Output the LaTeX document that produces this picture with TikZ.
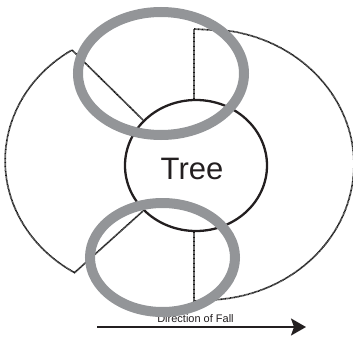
\documentclass[tikz,border=0pt]{standalone}
\usepackage{fontspec}
\setmainfont{Liberation Sans}
\usetikzlibrary{arrows.meta,shapes.geometric}
\definecolor{ringgray}{HTML}{939598}
\definecolor{inkdark}{HTML}{231F20}
\tikzset{
  hatch/.style={draw=black!90, line width=1.7pt, dash pattern=on 0.8pt off 0.5pt},
  treeshape/.style={ellipse, draw=inkdark, line width=2.3pt, inner sep=0pt, minimum width=142pt, minimum height=131pt},
  ring/.style={ellipse, draw=ringgray, line width=10pt, inner sep=0pt},
  arrowline/.style={draw=inkdark, line width=2pt, -{Stealth[length=15pt,width=17pt,inset=3pt]}}
}
\begin{document}
\begin{tikzpicture}[x=1pt,y=-1pt]
\useasboundingbox (0,0) rectangle (353,337);
% hatched outline
\coordinate (tl1) at (143,120);
\coordinate (tl2) at (72,50);
\coordinate (bl1) at (79,274);
\coordinate (bl2) at (143,211);
\coordinate (tv1) at (194,99);
\coordinate (tv2) at (194,29);
\coordinate (tr1) at (230,31);
\coordinate (bv1) at (194,231);
\coordinate (bv2) at (194,301);
\coordinate (br1) at (213,300);
\draw[hatch] (tl1) -- (tl2) arc[start angle=237.6, end angle=121.2, x radius=144, y radius=131] -- (bl2);
\draw[hatch] (tv1) -- (tv2) -- (tr1) arc[start angle=-80.3, end angle=86.9, x radius=149, y radius=135.5] -- (bv2) -- (bv1);
% tree
\node[treeshape] (tree) at (196,165.5) {};
\node[anchor=base, font=\fontsize{31}{31}\selectfont, text=inkdark, inner sep=0pt] (treelabel) at (192,179) {Tree};
% direction
\node[anchor=base, font=\fontsize{11}{11}\selectfont, text=inkdark, inner sep=0pt] (dirlabel) at (195.5,322) {Direction of Fall};
\coordinate (arrowstart) at (97,327);
\coordinate (arrowend) at (306,327);
\draw[arrowline] (arrowstart) -- (arrowend);
% rings
\node[ring, minimum width=166pt, minimum height=123pt] (topring) at (161,73.5) {};
\node[ring, minimum width=145pt, minimum height=109pt] (bottomring) at (162.5,257.5) {};
\end{tikzpicture}
\end{document}
